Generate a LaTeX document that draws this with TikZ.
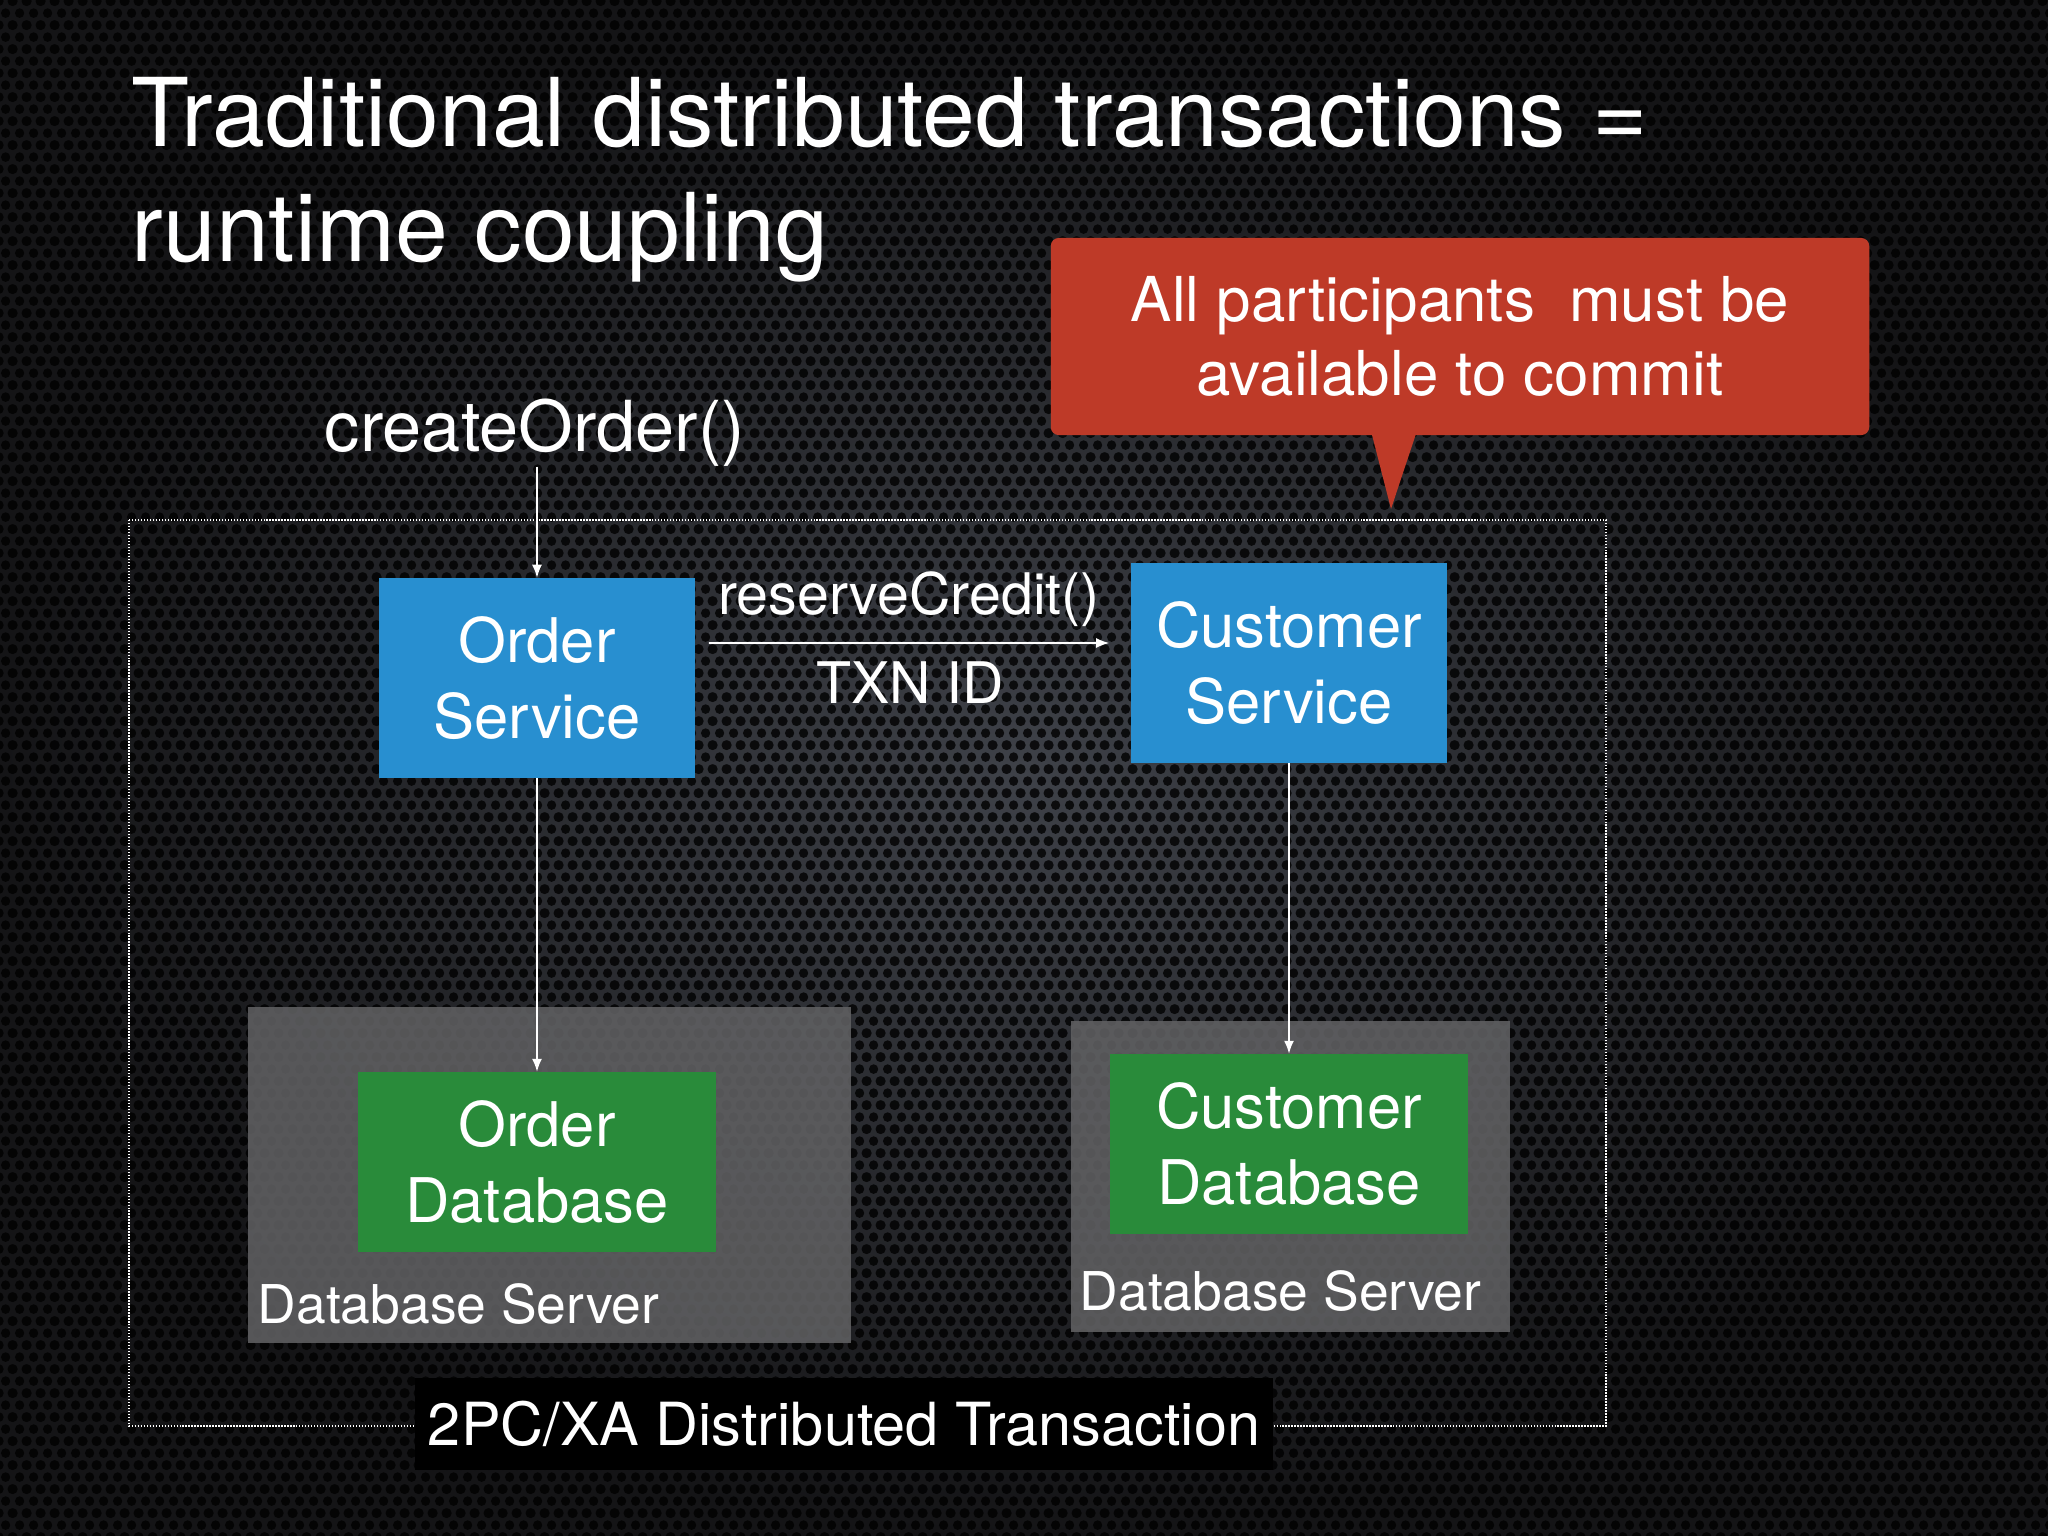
\documentclass[tikz,border=0pt]{standalone}
\usepackage{fontspec}
\setmainfont{TeX Gyre Heros}
\usetikzlibrary{arrows.meta,positioning,patterns.meta}

\definecolor{bgdark}{RGB}{20,20,22}
\definecolor{bgmid}{RGB}{62,65,72}
\definecolor{svcblue}{RGB}{40,143,208}
\definecolor{dbgreen}{RGB}{41,139,58}
\definecolor{srvgrey}{RGB}{96,96,98}
\definecolor{notered}{RGB}{190,58,40}

% perforated metal background
\tikzdeclarepattern{
    name=holes,
    type=uncolored,
    bounding box={(0pt,0pt) and (4pt,6.93pt)},
    tile size={(4pt,6.93pt)},
    code={
        \fill (0pt,0pt) circle (1.4pt);
        \fill (4pt,0pt) circle (1.4pt);
        \fill (0pt,6.93pt) circle (1.4pt);
        \fill (4pt,6.93pt) circle (1.4pt);
        \fill (2pt,3.465pt) circle (1.4pt);
    }
}

\tikzset{
    svc/.style={fill=svcblue, text=white, inner sep=0, align=center,
        minimum width=3.16cm, minimum height=1.99cm,
        font=\fontsize{17.5}{21.6}\selectfont},
    db/.style={svc, fill=dbgreen, minimum width=3.58cm, minimum height=1.79cm},
    srv/.style={fill=srvgrey, fill opacity=0.88, inner sep=0},
    lbl/.style={text=white, inner sep=0, font=\fontsize{16.3}{20}\selectfont},
    srvlbl/.style={lbl, font=\fontsize{15.2}{18}\selectfont},
    arr/.style={draw=white, line width=0.45pt, -{Latex[length=0.13cm, width=0.1cm]}},
}

\begin{document}
\begin{tikzpicture}[x=0.01cm, y=-0.01cm]
    \useasboundingbox (0,0) rectangle (2048,1536);
    \fill[bgdark] (0,0) rectangle (2048,1536);
    \shade[inner color=bgmid, outer color=bgdark] (0,0) rectangle (2048,1536);
    \fill[pattern=holes, pattern color=black, fill opacity=0.8] (0,0) rectangle (2048,1536);

    % title
    \node[text=white, inner sep=0, anchor=base west, font=\fontsize{27}{32}\selectfont]
        (t1) at (131,146) {Traditional distributed transactions =};
    \node[text=white, inner sep=0, anchor=base west, font=\fontsize{27}{32}\selectfont]
        (t2) at (131,261) {runtime coupling};

    % transaction frame
    \draw[white, line width=0.5pt, dash pattern=on 0.4pt off 0.45pt] (129,520) rectangle (1606,1426);
    \node[fill=black, text=white, inner sep=0, minimum width=8.58cm, minimum height=0.91cm,
        font=\fontsize{16.9}{20}\selectfont] (xa) at (844,1424) {2PC/XA Distributed Transaction};

    % database servers
    \node[srv, minimum width=6.03cm, minimum height=3.36cm] (srvl) at (549.5,1175) {};
    \node[srv, minimum width=4.39cm, minimum height=3.11cm] (srvr) at (1290.5,1176.5) {};
    \node[srvlbl, anchor=base west] (srvltxt) at (257,1323) {Database Server};
    \node[srvlbl, anchor=base west] (srvrtxt) at (1079,1310) {Database Server};

    % services and databases
    \node[svc] (os) at (537,678) {Order\\Service};
    \node[svc] (cs) at (1289,663) {Customer\\Service};
    \node[db] (odb) at (537,1162) {Order\\Database};
    \node[db] (cdb) at (1289,1144) {Customer\\Database};

    \node[lbl, anchor=base, font=\fontsize{20}{24}\selectfont] (call) at (535,451) {createOrder()};
    \node[lbl, anchor=base] (rc) at (909,614) {reserveCredit()};
    \node[lbl, anchor=base] (txn) at (910,703) {TXN ID};

    \draw[arr] (call.south -| os.north) -- (os.north);
    \draw[arr] ([xshift=0.13cm,yshift=0.35cm]os.east) -- ([xshift=-0.21cm,yshift=0.2cm]cs.west);
    \draw[arr] (os.south) -- (odb.north);
    \draw[arr] (cs.south) -- (cdb.north);

    % callout
    \node[fill=notered, rounded corners=0.08cm, text=white, inner sep=0, align=center,
        minimum width=8.18cm, minimum height=1.97cm, font=\fontsize{17.6}{21}\selectfont]
        (note) at (1460,336.5) {All participants\ \ must be\\available to commit};
    \coordinate (notetip) at (1391,509);
    \fill[notered] ([xshift=-0.89cm,yshift=0.05cm]note.south) -- (notetip)
        -- ([xshift=-0.43cm,yshift=0.05cm]note.south) -- cycle;
\end{tikzpicture}
\end{document}
